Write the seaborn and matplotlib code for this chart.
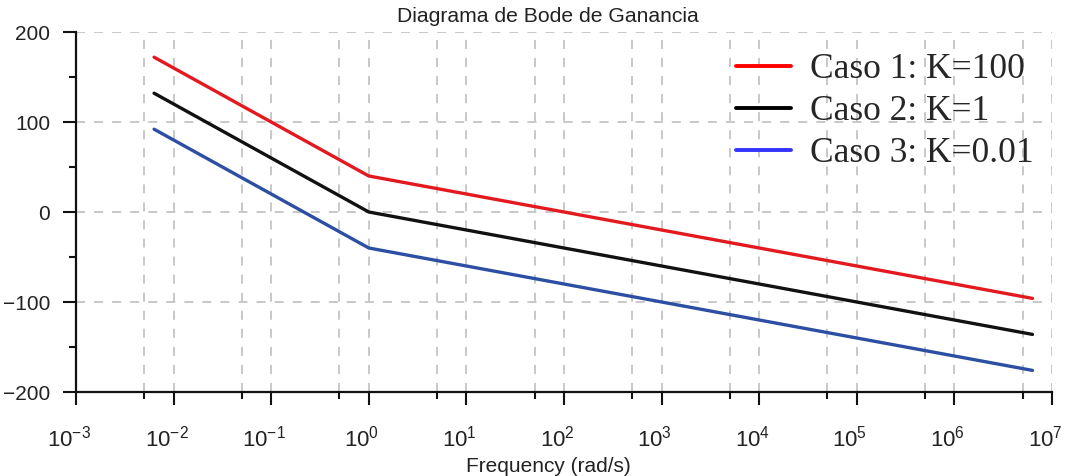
import numpy as np
import pandas as pd
import matplotlib
matplotlib.use("Agg")
import matplotlib.pyplot as plt
import matplotlib.ticker as mticker
import matplotlib.transforms as mtransforms
from matplotlib.lines import Line2D
import seaborn as sns

# Data
freq = [10**-2.2, 1.0, 10**6.8]
caso1 = [172, 40, -96]
caso2 = [132, 0, -136]
caso3 = [92, -40, -176]
labels = ["Caso 1: K=100", "Caso 2: K=1", "Caso 3: K=0.01"]
line_colors = ["#e3191f", "#111111", "#2c4fa3"]
legend_colors = ["#ff0000", "#000000", "#3333ff"]
xticks = [10.0**k for k in range(-3, 8)]
yticks = [-200, -100, 0, 100, 200]

sns.set_theme(style="white")
plt.rcParams['font.family'] = ['Liberation Sans', 'DejaVu Sans']

df = pd.DataFrame({
    "freq": freq * 3,
    "gain": caso1 + caso2 + caso3,
    "case": [labels[0]] * 3 + [labels[1]] * 3 + [labels[2]] * 3,
})

fig = plt.figure(figsize=(10.66, 4.76), dpi=100)
ax = fig.add_axes([76/1066, 1-392/476, (1052-76)/1066, (392-32)/476])

sns.lineplot(data=df, x="freq", y="gain", hue="case", palette=line_colors,
             linewidth=2.4, ax=ax, legend=False, sort=False)

ax.set_xscale("log")
ax.set_xlim(1e-3, 1e7)
ax.set_ylim(-200, 200)
ax.xaxis.set_major_locator(mticker.FixedLocator(xticks))
ax.xaxis.set_minor_locator(mticker.LogLocator(base=10, subs=[5.0], numticks=20))
ax.xaxis.set_major_formatter(mticker.LogFormatterSciNotation())
ax.xaxis.set_minor_formatter(mticker.NullFormatter())
ax.yaxis.set_major_locator(mticker.FixedLocator(yticks))
ax.yaxis.set_minor_locator(mticker.MultipleLocator(50))

grid_kw = dict(color="#c4c4c4", linestyle=(0, (5, 5)), linewidth=1.3)
ax.grid(True, which="major", axis="both", **grid_kw)
ax.grid(True, which="minor", axis="x", **grid_kw)

for s in ["top", "right"]:
    ax.spines[s].set_visible(False)
for s in ["left", "bottom"]:
    ax.spines[s].set_color("#111111")
    ax.spines[s].set_linewidth(1.6)

ax.tick_params(axis="both", which="major", direction="out", length=9.5, width=1.5,
               color="#111111", labelcolor="#222222", bottom=True, left=True)
ax.tick_params(axis="both", which="minor", direction="out", length=5, width=1.5,
               color="#111111", bottom=True, left=True)
ax.tick_params(axis="x", which="major", pad=15, labelsize=16)
ax.tick_params(axis="y", which="major", pad=9, labelsize=15)

offset = mtransforms.ScaledTranslation(-7/100, 0, fig.dpi_scale_trans)
for lbl in ax.get_xticklabels():
    lbl.set_transform(lbl.get_transform() + offset)

ax.set_xlabel("")
ax.set_ylabel("")
fig.text(548/1066, 1-466/476, "Frequency (rad/s)", fontsize=15, color="#222222",
         ha="center", va="center")
fig.text(548/1066, 1-16/476, "Diagrama de Bode de Ganancia", fontsize=15.2,
         color="#222222", ha="center", va="center")

handles = [Line2D([0], [0], color=c, linewidth=2.8) for c in legend_colors]
leg = ax.legend(handles, labels, loc="upper right", bbox_to_anchor=(1.003, 1.0),
                frameon=False, prop={"family": "Liberation Serif", "size": 25.5},
                handlelength=1.55, handletextpad=0.55, labelspacing=0.25, borderaxespad=0.2)

fig.savefig("out.png", dpi=100)
